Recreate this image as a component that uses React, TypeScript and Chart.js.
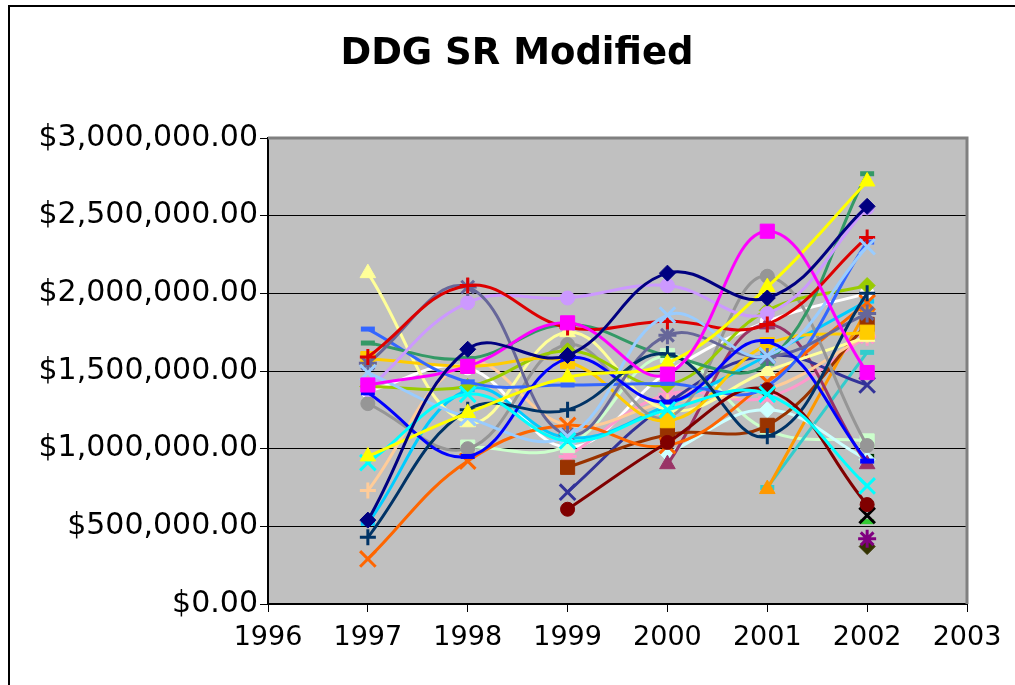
import React, { useEffect, useRef } from "react";
import { Chart, registerables } from "chart.js";

Chart.register(...registerables);

const years = [1997, 1998, 1999, 2000, 2001, 2002];
const xTickYears = [1996, 1997, 1998, 1999, 2000, 2001, 2002, 2003];
const yTicks = [0, 500000, 1000000, 1500000, 2000000, 2500000, 3000000];
const titleText = "DDG SR Modified";

// values in millions of dollars (null = no value)
const navy = [0.54, 1.64, 1.6, 2.13, 1.97, 2.56];
const magenta = [1.41, 1.53, 1.81, 1.48, 2.4, 1.49];
const yellow = [0.95, 1.23, 1.46, 1.55, 2.04, 2.72];
const cyan = [0.91, 1.35, 1.05, 1.25, 1.35, 0.76];
const purple = [null, null, null, null, null, 0.42];
const maroon = [null, null, 0.61, 1.04, 1.38, 0.64];
const darkTeal = [0.43, 1.25, 1.25, 1.61, 1.08, 2.0];
const blue = [1.36, 0.95, 1.58, 1.3, 1.69, 0.92];
const lightBlue = [1.49, 1.2, 1.08, 1.86, 1.6, 2.3];
const red = [1.59, 2.05, 1.78, 1.82, 1.8, 2.36];
const slate = [1.55, 2.04, 1.09, 1.73, 1.59, 1.87];
const lavender = [1.38, 1.94, 1.97, 2.05, 1.87, 2.55];
const green = [1.68, 1.58, 1.8, 1.6, 1.55, 2.77];
const royal = [1.77, 1.43, 1.41, 1.42, 1.4, 2.33];
const gold = [1.58, 1.53, 1.56, 1.18, 1.67, 1.75];
const white = [1.37, 1.52, 1.01, 1.49, 1.82, 2.0];
const lime = [1.4, 1.4, 1.63, 1.41, 1.89, 2.05];
const gray = [1.29, 1.0, 1.67, 1.2, 2.11, 1.02];
const paleYellow = [2.13, 1.17, 1.75, 1.25, 1.5, 1.72];
const orange = [0.29, 0.92, 1.15, 1.02, 1.43, 1.94];
const skyBlue = [0.52, 1.38, 1.07, 1.28, 1.6, 1.95];
const peach = [0.73, 1.55, 1.15, 1.3, 1.38, 1.73];
const brown = [null, null, 0.88, 1.09, 1.15, 1.8];
const indigo = [null, null, 0.72, 1.29, 1.6, 1.41];
const plum = [null, null, null, 0.9, 1.8, 0.9];
const paleCyan = [null, null, null, 0.97, 1.25, 0.93];
const amber = [null, null, null, null, 0.74, 1.9];
const turquoise = [null, null, null, null, 0.75, 1.62];
const paleGreen = [null, 1.01, 1.02, 1.6, 1.12, 1.05];
const pink = [null, null, 0.95, 1.35, 1.33, 1.72];
const black = [null, null, null, null, null, 0.57];
const olive = [null, null, null, null, null, 0.37];
const brightGreen = [null, null, null, null, null, 0.53];
const darkGreen = [null, null, null, null, null, 0.95];

type S = { name: string; data: (number | null)[]; color: string; marker: string };

const seriesList: S[] = [
  { name: "S1", data: navy, color: "#000080", marker: "rectRot" },
  { name: "S2", data: magenta, color: "#FF00FF", marker: "rect" },
  { name: "S3", data: yellow, color: "#FFFF00", marker: "triangle" },
  { name: "S4", data: cyan, color: "#00FFFF", marker: "crossRot" },
  { name: "S5", data: purple, color: "#800080", marker: "star" },
  { name: "S6", data: maroon, color: "#800000", marker: "circle" },
  { name: "S7", data: darkTeal, color: "#003366", marker: "cross" },
  { name: "S8", data: blue, color: "#0000FF", marker: "line" },
  { name: "S9", data: lightBlue, color: "#99CCFF", marker: "crossRot" },
  { name: "S10", data: red, color: "#DD0000", marker: "cross" },
  { name: "S11", data: slate, color: "#666699", marker: "star" },
  { name: "S12", data: lavender, color: "#CC99FF", marker: "circle" },
  { name: "S13", data: green, color: "#339966", marker: "line" },
  { name: "S14", data: royal, color: "#3366FF", marker: "line" },
  { name: "S15", data: gold, color: "#FFCC00", marker: "rect" },
  { name: "S16", data: lime, color: "#99CC00", marker: "rectRot" },
  { name: "S17", data: gray, color: "#969696", marker: "circle" },
  { name: "S18", data: paleYellow, color: "#FFFF99", marker: "triangle" },
  { name: "S19", data: orange, color: "#FF6600", marker: "crossRot" },
  { name: "S20", data: skyBlue, color: "#00CCFF", marker: "line" },
  { name: "S21", data: peach, color: "#FFCC99", marker: "cross" },
  { name: "S22", data: brown, color: "#993300", marker: "rect" },
  { name: "S23", data: indigo, color: "#333399", marker: "crossRot" },
  { name: "S24", data: plum, color: "#993366", marker: "triangle" },
  { name: "S25", data: paleCyan, color: "#CCFFFF", marker: "rectRot" },
  { name: "S26", data: amber, color: "#FF9900", marker: "triangle" },
  { name: "S27", data: turquoise, color: "#33CCCC", marker: "line" },
  { name: "S28", data: paleGreen, color: "#CCFFCC", marker: "rect" },
  { name: "S29", data: pink, color: "#FF99CC", marker: "star" },
  { name: "S30", data: black, color: "#000000", marker: "crossRot" },
  { name: "S31", data: olive, color: "#333300", marker: "rectRot" },
  { name: "S32", data: brightGreen, color: "#33CC33", marker: "line" },
  { name: "S33", data: darkGreen, color: "#003300", marker: "line" },
  { name: "S34", data: white, color: "#FFFFFF", marker: "circle" },
];

const markerRadius: Record<string, number> = {
  circle: 7, rect: 10, rectRot: 8, triangle: 9, cross: 8, crossRot: 11, star: 9, line: 7,
};
const markerBorder: Record<string, number> = {
  circle: 1, rect: 1, rectRot: 1, triangle: 1, cross: 3, crossRot: 3, star: 3, line: 5,
};

const plotDecor = {
  id: "plotDecor",
  beforeDraw(chart: any) {
    const { ctx, chartArea: a } = chart;
    ctx.save();
    ctx.fillStyle = "#C0C0C0";
    ctx.fillRect(a.left, a.top, a.right - a.left, a.bottom - a.top);
    ctx.restore();
  },
  beforeDatasetsDraw(chart: any) {
    const { ctx, chartArea: a } = chart;
    ctx.save();
    ctx.strokeStyle = "#808080";
    ctx.lineWidth = 3;
    ctx.beginPath();
    ctx.moveTo(a.left, a.top);
    ctx.lineTo(a.right, a.top);
    ctx.lineTo(a.right, a.bottom);
    ctx.stroke();
    ctx.restore();
  },
  afterDraw(chart: any) {
    const { ctx } = chart;
    ctx.save();
    ctx.fillStyle = "#000";
    ctx.font = "bold 37px 'DejaVu Sans'";
    ctx.textAlign = "center";
    ctx.textBaseline = "middle";
    ctx.fillText(titleText, 507, 47);
    ctx.restore();
  },
};

export default function App() {
  const ref = useRef<HTMLCanvasElement>(null);
  useEffect(() => {
    if (!ref.current) return;
    const datasets = seriesList.map((s) => ({
      label: s.name,
      data: years.map((yr, i) => ({ x: yr, y: s.data[i] == null ? null : (s.data[i] as number) * 1000000 })),
      borderColor: s.color,
      backgroundColor: s.color,
      borderWidth: 3,
      tension: 0.4,
      spanGaps: false,
      pointStyle: s.marker,
      pointRadius: markerRadius[s.marker],
      pointBorderWidth: markerBorder[s.marker],
      pointBackgroundColor: s.color,
      pointBorderColor: s.color,
    }));
    const chart = new Chart(ref.current, {
      type: "line",
      data: { datasets },
      plugins: [plotDecor],
      options: {
        animation: false,
        responsive: false,
        layout: { padding: { right: 48, top: 131, left: 0, bottom: 0 } },
        plugins: {
          legend: { display: false },
          tooltip: { enabled: false },
          title: { display: false },
        },
        scales: {
          x: {
            type: "linear",
            min: 1996,
            max: 2003,
            afterFit(scale: any) { scale.height = 81; },
            afterBuildTicks(scale: any) { scale.ticks = xTickYears.map((v) => ({ value: v })); },
            ticks: {
              color: "#000",
              font: { family: "DejaVu Sans", size: 27 },
              padding: 10,
              maxRotation: 0,
              callback: (v: any) => String(v),
            },
            grid: { drawOnChartArea: false, color: "#000", tickLength: 8, lineWidth: 1 },
            border: { color: "#000", width: 2 },
          },
          y: {
            type: "linear",
            min: 0,
            max: 3000000,
            afterFit(scale: any) { scale.width = 258; },
            afterBuildTicks(scale: any) { scale.ticks = yTicks.map((v) => ({ value: v })); },
            ticks: {
              color: "#000",
              font: { family: "DejaVu Sans", size: 30 },
              padding: 2,
              callback: (v: any) => "$" + Number(v).toLocaleString("en-US", { minimumFractionDigits: 2, maximumFractionDigits: 2 }),
            },
            grid: {
              color: (c: any) => (c.tick && c.tick.value === 3000000 ? "rgba(0,0,0,0)" : "#000"),
              tickColor: "#000",
              tickLength: 8,
              lineWidth: 1,
            },
            border: { color: "#000", width: 2 },
          },
        },
      },
    } as any);
    return () => chart.destroy();
  }, []);
  return (
    <div
      style={{
        position: "fixed",
        left: 8,
        top: 5,
        width: 1007,
        height: 680,
        borderLeft: "2px solid #000",
        borderTop: "2px solid #000",
        background: "#fff",
        overflow: "hidden",
      }}
    >
      <canvas ref={ref} width={1005} height={678} style={{ display: "block" }} />
    </div>
  );
}
